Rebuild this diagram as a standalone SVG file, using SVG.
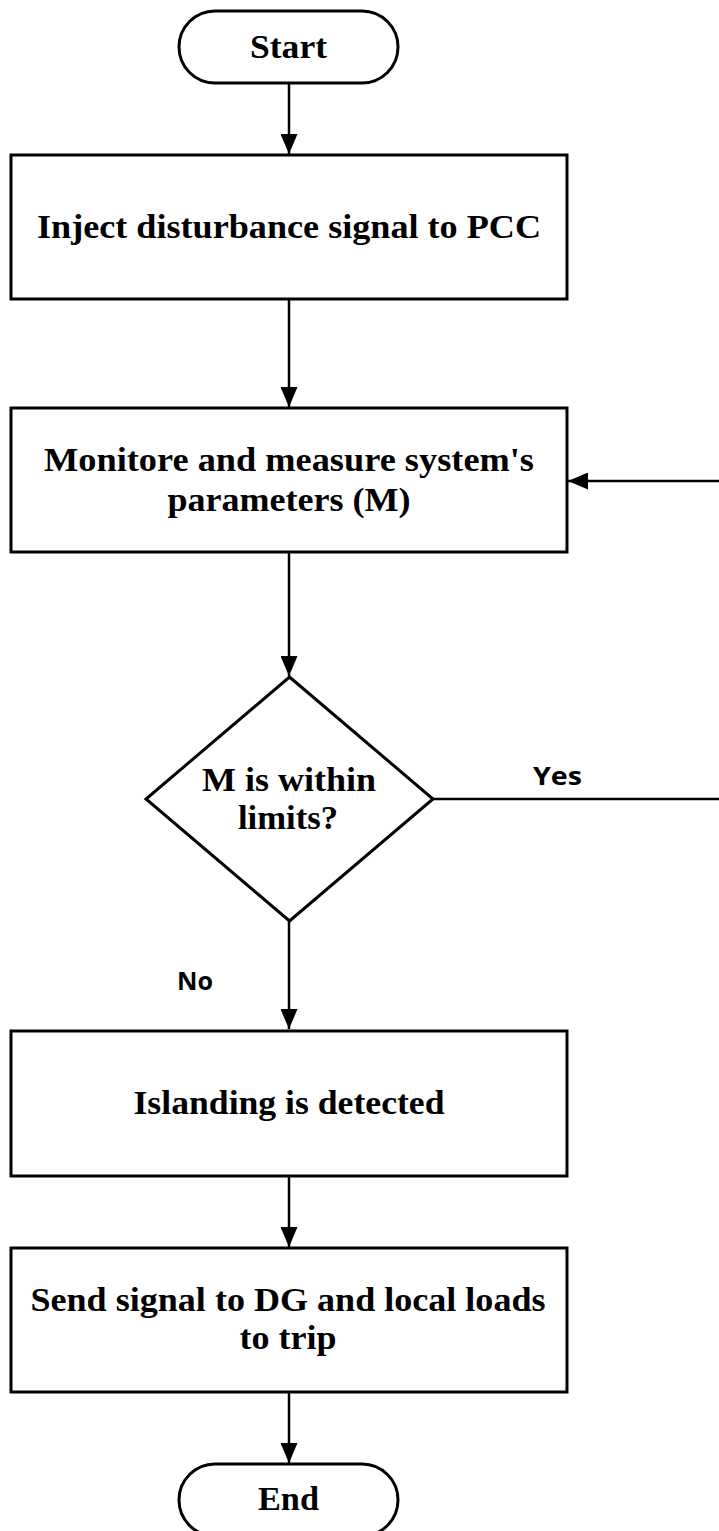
<svg xmlns="http://www.w3.org/2000/svg" width="719" height="1531" viewBox="0 0 719 1531">
<style>
.shape{fill:#fff;stroke:#000;stroke-width:3}
.conn{fill:none;stroke:#000;stroke-width:2.5}
.t{font-family:"Liberation Serif","Times New Roman",serif;font-weight:bold;font-size:33px;fill:#000;text-anchor:middle}
.lbl{font-family:"Open Sans","DejaVu Sans",sans-serif;font-weight:bold;font-size:25px;fill:#000}
</style>
<defs>
<marker id="ah" viewBox="0 0 20 17" refX="20" refY="8.5" markerWidth="20" markerHeight="17" markerUnits="userSpaceOnUse" orient="auto">
<path d="M0,0 L20,8.5 L0,17 Z" fill="#000"/>
</marker>
</defs>
<g id="connectors">
<line class="conn" x1="289" y1="83" x2="289" y2="154" marker-end="url(#ah)"/>
<line class="conn" x1="289" y1="299" x2="289" y2="407" marker-end="url(#ah)"/>
<line class="conn" x1="289" y1="552" x2="289" y2="676" marker-end="url(#ah)"/>
<line class="conn" x1="289" y1="921" x2="289" y2="1029" marker-end="url(#ah)"/>
<line class="conn" x1="289" y1="1176" x2="289" y2="1247" marker-end="url(#ah)"/>
<line class="conn" x1="289" y1="1392" x2="289" y2="1463" marker-end="url(#ah)"/>
<path class="conn" d="M433,799 H724 V481 H568" marker-end="url(#ah)"/>
<text class="lbl" x="533" y="785" textLength="49" lengthAdjust="spacingAndGlyphs">Yes</text>
<text class="lbl" x="177" y="990" textLength="36" lengthAdjust="spacingAndGlyphs">No</text>
</g>
<g id="start">
<rect class="shape" x="179" y="11" width="219" height="72" rx="36" ry="36"/>
<text class="t" x="288.5" y="58" textLength="77" lengthAdjust="spacingAndGlyphs">Start</text>
</g>
<g id="inject">
<rect class="shape" x="11" y="155" width="556" height="144"/>
<text class="t" x="289" y="238" textLength="504" lengthAdjust="spacingAndGlyphs">Inject disturbance signal to PCC</text>
</g>
<g id="monitor">
<rect class="shape" x="11" y="408" width="556" height="144"/>
<text class="t" x="289" y="471" textLength="490" lengthAdjust="spacingAndGlyphs">Monitore and measure system's</text>
<text class="t" x="289" y="511" textLength="243" lengthAdjust="spacingAndGlyphs">parameters (M)</text>
</g>
<g id="decision">
<polygon class="shape" points="289.5,677 433,799 289.5,921 146,799"/>
<text class="t" x="289" y="791" textLength="174" lengthAdjust="spacingAndGlyphs">M is within</text>
<text class="t" x="288" y="829" textLength="100" lengthAdjust="spacingAndGlyphs">limits?</text>
</g>
<g id="islanding">
<rect class="shape" x="11" y="1031" width="556" height="145"/>
<text class="t" x="289" y="1114" textLength="311" lengthAdjust="spacingAndGlyphs">Islanding is detected</text>
</g>
<g id="send">
<rect class="shape" x="11" y="1248" width="556" height="144"/>
<text class="t" x="288" y="1311" textLength="515" lengthAdjust="spacingAndGlyphs">Send signal to DG and local loads</text>
<text class="t" x="288" y="1349" textLength="97" lengthAdjust="spacingAndGlyphs">to trip</text>
</g>
<g id="end">
<rect class="shape" x="179" y="1464" width="219" height="72" rx="36" ry="36"/>
<text class="t" x="288.5" y="1510" textLength="61" lengthAdjust="spacingAndGlyphs">End</text>
</g>
</svg>
